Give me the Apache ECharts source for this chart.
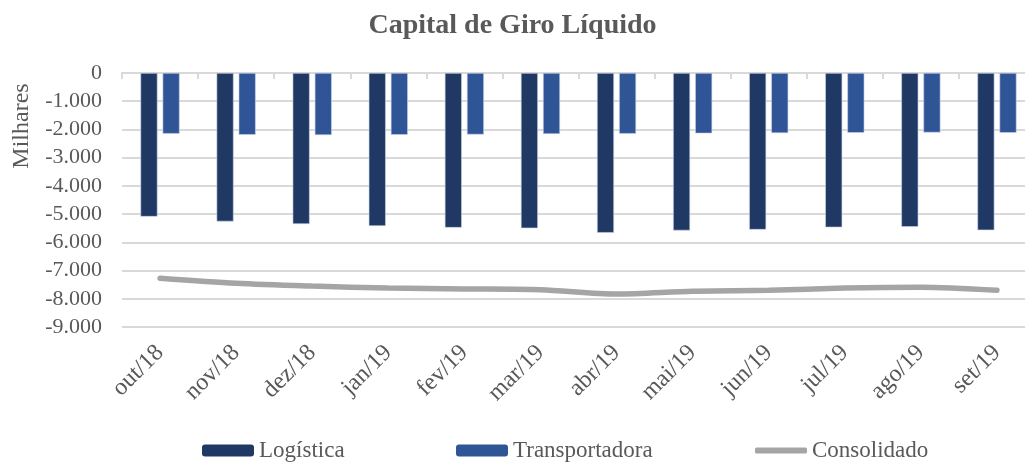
<!DOCTYPE html>
<html>
<head>
<meta charset="utf-8">
<script src="https://cdn.jsdelivr.net/npm/echarts@6/dist/echarts.min.js"></script>
<style>
    html, body { margin: 0; padding: 0; background: #fff; }
    #main { width: 1025px; height: 463px; }
</style>
</head>
<body>
<div id="main"></div>
<script>
var meses = ['out/18', 'nov/18', 'dez/18', 'jan/19', 'fev/19', 'mar/19', 'abr/19', 'mai/19', 'jun/19', 'jul/19', 'ago/19', 'set/19'];
var logistica = [-5090, -5260, -5350, -5420, -5480, -5500, -5660, -5580, -5550, -5470, -5450, -5570];
var transportadora = [-2150, -2190, -2200, -2190, -2180, -2160, -2150, -2140, -2130, -2120, -2110, -2120];
var consolidado = [-7270, -7450, -7550, -7620, -7650, -7680, -7830, -7730, -7700, -7620, -7590, -7700];

var fonte = 'Liberation Serif';
var cinza = '#595959';

function milhar(v) {
    var s = Math.abs(v).toString().replace(/\B(?=(\d{3})+(?!\d))/g, '.');
    return (v < 0 ? '-' : '') + s;
}

var myChart = echarts.init(document.getElementById('main'));

function legenda(nome, left, extra) {
    var l = {
        data: [nome],
        left: left,
        top: 439,
        padding: 0,
        itemWidth: 52,
        itemHeight: 12,
        itemGap: 6,
        itemStyle: { borderWidth: 0 },
        textStyle: { fontFamily: fonte, fontSize: 23, color: cinza }
    };
    if (extra) for (var k in extra) l[k] = extra[k];
    return l;
}

var option = {
    animation: false,
    title: {
        text: 'Capital de Giro Líquido',
        left: 'center',
        top: 7,
        textStyle: { fontFamily: fonte, fontSize: 28, fontWeight: 'bold', color: cinza }
    },
    legend: [
        legenda('Logística', 202),
        legenda('Transportadora', 456),
        legenda('Consolidado', 755, {
            icon: 'roundRect',
            itemHeight: 6,
            itemStyle: { color: '#a5a5a5', borderWidth: 0 },
            lineStyle: { width: 0 }
        })
    ],
    graphic: [{
        type: 'text',
        x: 22,
        y: 126,
        rotation: Math.PI / 2,
        style: {
            text: 'Milhares',
            fontFamily: fonte,
            fontSize: 24,
            fill: cinza,
            align: 'center',
            verticalAlign: 'middle'
        }
    }],
    grid: {
        left: 122,
        top: 73,
        width: 913,
        height: 254,
        outerBoundsMode: 'none'
    },
    xAxis: [{
        type: 'category',
        data: meses,
        position: 'bottom',
        axisLine: { show: false, onZero: false },
        axisTick: { show: false },
        axisLabel: {
            rotate: 45,
            margin: 22,
            fontFamily: fonte,
            fontSize: 24,
            color: cinza
        }
    }, {
        type: 'category',
        data: meses,
        position: 'top',
        axisLine: { show: true, onZero: false, lineStyle: { color: '#d9d9d9', width: 2 } },
        axisTick: { show: true, inside: true, length: 6, lineStyle: { color: '#d9d9d9', width: 2 } },
        axisLabel: { show: false }
    }],
    yAxis: {
        type: 'value',
        min: -9000,
        max: 0,
        interval: 1000,
        axisLine: { show: false },
        axisTick: { show: false },
        axisLabel: {
            margin: 20,
            fontFamily: fonte,
            fontSize: 22,
            color: cinza,
            formatter: milhar
        },
        splitLine: { lineStyle: { color: '#d9d9d9', width: 2 } }
    },
    series: [{
        name: 'Logística',
        type: 'bar',
        data: logistica,
        barWidth: 17,
        barGap: '30%',
        itemStyle: { color: '#1f3864', borderColor: '#c9d3e6', borderWidth: 0.6 }
    }, {
        name: 'Transportadora',
        type: 'bar',
        data: transportadora,
        barWidth: 17,
        itemStyle: { color: '#2f5597', borderColor: '#c9d3e6', borderWidth: 0.6 }
    }, {
        name: 'Consolidado',
        type: 'line',
        data: consolidado,
        smooth: 0.3,
        showSymbol: false,
        symbol: 'none',
        lineStyle: { color: '#a5a5a5', width: 5.5, cap: 'round' },
        itemStyle: { color: '#a5a5a5' }
    }]
};
myChart.setOption(option);
</script>
</body>
</html>
